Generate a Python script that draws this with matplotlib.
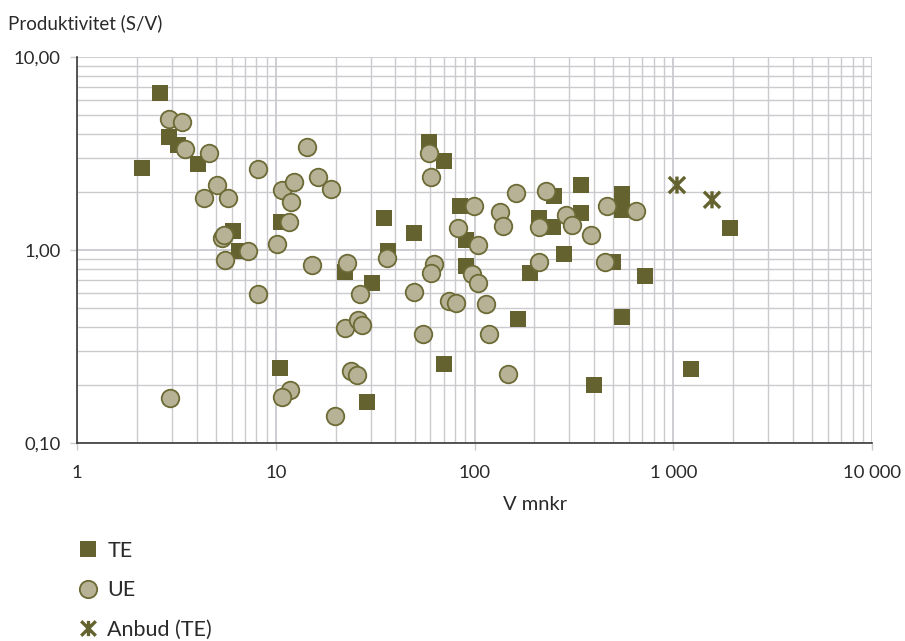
import matplotlib
matplotlib.use("Agg")
import matplotlib.pyplot as plt
from matplotlib.path import Path
from matplotlib.lines import Line2D
from matplotlib.ticker import FixedLocator, FixedFormatter, NullFormatter, LogLocator

# ---- data ----
te_x = [2.62, 2.89, 3.23, 2.12, 4.06, 6.10, 10.6, 6.53, 10.5, 22.3, 30.5, 28.8,
        35.0, 36.7, 49.6, 59.0, 70.2, 70.2, 84.5, 90.6, 90.6, 165, 190, 210,
        249, 251, 282, 342, 342, 399, 496, 552, 552, 552, 721, 1228, 1930]
te_y = [6.53, 3.87, 3.50, 2.67, 2.79, 1.26, 1.40, 0.99, 0.245, 0.772, 0.671, 0.163,
        1.47, 0.99, 1.23, 3.64, 2.90, 0.257, 1.69, 1.13, 0.826, 0.441, 0.763, 1.47,
        1.31, 1.90, 0.953, 2.17, 1.56, 0.200, 0.867, 1.95, 1.62, 0.451, 0.736, 0.243, 1.30]

ue_x = [2.90, 3.39, 3.49, 4.62, 8.14, 14.3, 5.05, 4.37, 5.77, 10.8, 12.4, 12.0,
        16.3, 18.9, 11.7, 5.35, 5.51, 10.1, 7.21, 5.55, 15.3, 8.14, 11.8, 10.7,
        2.94, 19.8, 22.8, 22.3, 25.9, 27.1, 26.6, 23.8, 25.5, 36.4, 49.6, 55.3,
        59.0, 60.2, 62.6, 60.4, 74.7, 80.7, 82.9, 99.4, 104, 97.5, 104, 114,
        118, 148, 134, 139, 162, 230, 212, 210, 287, 310, 386, 464, 454, 652]
ue_y = [4.76, 4.62, 3.35, 3.19, 2.63, 3.41, 2.17, 1.85, 1.85, 2.05, 2.24, 1.77,
        2.38, 2.07, 1.39, 1.15, 1.19, 1.08, 0.99, 0.888, 0.836, 0.592, 0.188, 0.174,
        0.171, 0.1375, 0.853, 0.394, 0.434, 0.407, 0.592, 0.235, 0.224, 0.906, 0.608, 0.366,
        3.17, 2.38, 0.846, 0.763, 0.547, 0.530, 1.30, 1.69, 1.06, 0.751, 0.675, 0.525,
        0.366, 0.227, 1.58, 1.33, 1.97, 2.01, 1.31, 0.865, 1.51, 1.34, 1.19, 1.69, 0.867, 1.59]

anbud_x = [1044, 1567]
anbud_y = [2.17, 1.82]

x_ticks = [1, 10, 100, 1000, 10000]
x_ticklabels = ["1", "10", "100", "1 000", "10 000"]
y_ticks = [0.1, 1, 10]
y_ticklabels = ["0,10", "1,00", "10,00"]

series_labels = ["TE", "UE", "Anbud (TE)"]
y_title = "Produktivitet (S/V)"
x_title = "V mnkr"

# ---- style ----
plt.rcParams['font.family'] = ['Lato', 'DejaVu Sans']
TXT = '#2a2a2a'
SQ = '#64622e'
CFACE = '#b7b295'
CEDGE = '#6c6a35'
GRID = '#cacacf'

star = Path([(-1, -1), (1, 1), (-1, 1), (1, -1), (0, -1.05), (0, 1.05)],
            [Path.MOVETO, Path.LINETO, Path.MOVETO, Path.LINETO, Path.MOVETO, Path.LINETO])

fig = plt.figure(figsize=(9.05, 6.41), dpi=100)
ax = fig.add_axes([77/905, 1-443/641, (872-77)/905, (443-57)/641])
ax.set_xscale('log')
ax.set_yscale('log')
ax.set_xlim(1, 10000)
ax.set_ylim(0.1, 10)

ax.scatter(te_x, te_y, marker='s', s=125, color=SQ, linewidths=0, zorder=3)
ax.scatter(ue_x, ue_y, marker='o', s=160, facecolor=CFACE, edgecolor=CEDGE, linewidths=1.3, zorder=4)
ax.scatter(anbud_x, anbud_y, marker=star, s=150, facecolor='none', edgecolor=SQ, linewidths=2.4, zorder=5)

ax.xaxis.set_major_locator(FixedLocator(x_ticks))
ax.xaxis.set_major_formatter(FixedFormatter(x_ticklabels))
ax.yaxis.set_major_locator(FixedLocator(y_ticks))
ax.yaxis.set_major_formatter(FixedFormatter(y_ticklabels))
ax.xaxis.set_minor_locator(LogLocator(base=10, subs=range(2, 10)))
ax.yaxis.set_minor_locator(LogLocator(base=10, subs=range(2, 10)))
ax.xaxis.set_minor_formatter(NullFormatter())
ax.yaxis.set_minor_formatter(NullFormatter())

ax.grid(True, which='major', color=GRID, linewidth=1.3, zorder=0)
ax.grid(True, which='minor', color=GRID, linewidth=1.0, zorder=0)
ax.set_axisbelow(True)
for s in ['top', 'right']:
    ax.spines[s].set_visible(False)
for s in ['left', 'bottom']:
    ax.spines[s].set_color('#3a3a3a')
    ax.spines[s].set_linewidth(1.2)

ax.tick_params(axis='x', which='major', length=5, color=GRID, width=1, pad=11,
               labelsize=13.3, labelcolor=TXT)
ax.tick_params(axis='y', which='major', length=5, color=GRID, width=1, pad=7,
               labelsize=13.3, labelcolor=TXT)
ax.tick_params(which='minor', length=0)

fig.text(535/905, 1-505/641, x_title, ha='center', va='center', fontsize=14.5, color=TXT)
fig.text(8/905, 1-23/641, y_title, ha='left', va='center', fontsize=13.5, color=TXT)

handles = [
    Line2D([], [], linestyle='none', marker='s', markersize=11, color=SQ, markeredgewidth=0),
    Line2D([], [], linestyle='none', marker='o', markersize=12.5, markerfacecolor=CFACE,
           markeredgecolor=CEDGE, markeredgewidth=1.3),
    Line2D([], [], linestyle='none', marker=star, markersize=11, markerfacecolor='none',
           markeredgecolor=SQ, markeredgewidth=2.4),
]
leg = fig.legend(handles, series_labels, loc='upper left', bbox_to_anchor=(76/905, 1-541/641),
                 frameon=False, fontsize=15.5, labelspacing=0.9, handletextpad=0.35,
                 handlelength=1.1, borderpad=0, borderaxespad=0)
for t in leg.get_texts():
    t.set_color(TXT)

fig.savefig('out.png', dpi=100)
